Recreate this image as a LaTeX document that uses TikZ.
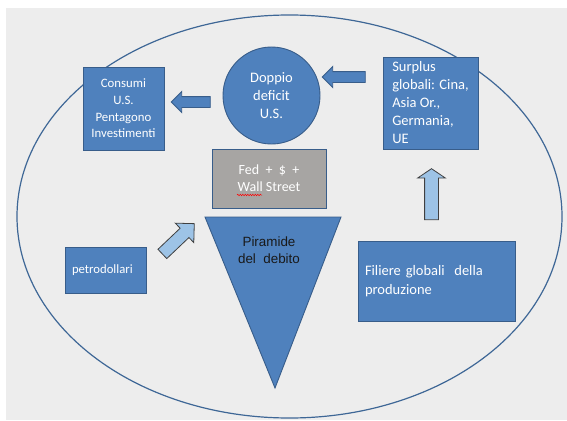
\documentclass[tikz,border=0pt]{standalone}
\usepackage{fontspec}
\setmainfont{Carlito}
\newfontfamily\arialfont{Liberation Sans}
\usetikzlibrary{positioning}
\usetikzlibrary{calc}
\usetikzlibrary{shapes.arrows}
\usetikzlibrary{decorations.pathmorphing}

\definecolor{boxblue}{HTML}{4F81BD}
\definecolor{boxline}{HTML}{385D8A}
\definecolor{paleblue}{HTML}{9DC3E6}
\definecolor{fedgrey}{HTML}{A7A5A3}
\definecolor{canvas}{HTML}{EDEDED}
\definecolor{ringline}{HTML}{3E6796}

\begin{document}
\begin{tikzpicture}[x=1pt,y=-1pt,
	box/.style={draw=boxline,fill=boxblue,line width=0.9pt,rectangle,text=white,inner sep=0pt},
	leftbox/.style={box,align=left,inner xsep=7pt},
	blockarrow/.style={single arrow,draw=boxline,fill=boxblue,line width=0.9pt,inner sep=5pt,minimum width=20pt,single arrow head extend=5pt},
	lightarrow/.style={single arrow,draw=black!75,fill=paleblue,line width=0.8pt},
	ring/.style={draw=ringline,line width=1.2pt}]
	\useasboundingbox (0,0) rectangle (567,420);
	\fill[white] (0,0) rectangle (567,420);
	\fill[canvas] (6,8) rectangle (567,420);

	\draw[ring] (289.5,216.5) ellipse [x radius=272.5, y radius=201.5];

	\node[box, circle, minimum size=97pt, align=center, font=\fontsize{14.5}{18}\selectfont] (deficit) at (271.5,95.5) {Doppio\\deficit\\U.S.};
	\node[box, minimum width=81pt, minimum height=83pt, align=center, font=\fontsize{12.8}{16.7}\selectfont] (consumi) at (123.5,108.5) {Consumi\\U.S.\\Pentagono\\Investimenti};
	\node[box, align=left, minimum width=95pt, minimum height=92pt, font=\fontsize{14.5}{18}\selectfont] (surplus) at (430.5,103) {Surplus\\globali: Cina,\\Asia Or.,\\Germania,\\UE};
	\node[box, fill=fedgrey, minimum width=114pt, minimum height=59pt, align=center, font=\fontsize{14}{17}\selectfont] (fed) at (269,178.5) {Fed~~+~~\$~~+\\Wall Street};
	\node[leftbox, text width=67pt, minimum height=46pt, font=\fontsize{12.7}{16}\selectfont] (petro) at (105.5,270) {petrodollari};
	\node[leftbox, text width=143pt, minimum height=80pt, font=\fontsize{14.5}{19}\selectfont] (filiere) at (436.5,281) {Filiere globali~ della\\produzione};

	% piramide
	\coordinate (pyrleft) at (205,217);
	\coordinate (pyrright) at (341,217);
	\coordinate (pyrtip) at (275,388);
	\draw[boxline, fill=boxblue, line width=0.9pt] (pyrleft) -- (pyrright) -- (pyrtip) -- cycle;
	\node[text=black!90, align=center, font=\arialfont\fontsize{13.4}{16.5}\selectfont] (pyrtext) at (269,250) {Piramide\\del~ debito};

	% frecce
	\node[blockarrow, shape border rotate=180, minimum height=39pt] (arrcons) at ($(consumi.east)!0.5!(deficit.west)$ |- 0,77) {};
	\node[blockarrow, shape border rotate=180, minimum height=43pt] (arrdef) at (346.5,77) {};
	\node[lightarrow, shape border rotate=90, inner sep=6.5pt, minimum height=51pt, minimum width=27pt, single arrow head extend=7pt, single arrow tip angle=112] (arrup) at (431.5,196.5) {};
	\node[lightarrow, rotate=43.5, inner sep=6pt, minimum height=44pt, minimum width=26pt, single arrow head extend=7pt] (arrdiag) at (176,241) {};

	\draw[red, line width=0.5pt, decorate, decoration={snake, amplitude=0.7pt, segment length=2.5pt}] ($(fed.center)+(-32,16.5)$) -- ($(fed.center)+(-7,16.5)$);
\end{tikzpicture}
\end{document}
